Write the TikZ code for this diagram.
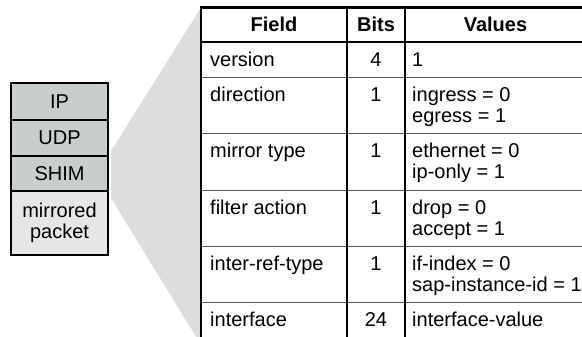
\documentclass[tikz,border=0pt]{standalone}
\usepackage{fontspec}
\setmainfont{Liberation Sans}
\usetikzlibrary{calc}
\definecolor{hdrgray}{HTML}{C8CDCD}
\definecolor{pktgray}{HTML}{E6E6E6}
\definecolor{fangray}{HTML}{DDDDDD}
\begin{document}
\begin{tikzpicture}[x=1pt,y=-1pt,
  font=\fontsize{20}{21}\selectfont,
  stackbox/.style={draw=black, line width=2pt, minimum width=97pt, inner sep=0pt, align=center},
  fanshape/.style={fill=fangray},
  rowline/.style={draw=black!65, line width=0.9pt},
  colline/.style={draw=black, line width=2pt},
  thickline/.style={draw=black, line width=2.6pt},
  cell/.style={inner sep=0pt, anchor=base west},
  num/.style={inner sep=0pt, anchor=base},
  hdr/.style={inner sep=0pt, anchor=base, font=\fontsize{20}{21}\selectfont\bfseries}]
\useasboundingbox (0,0) rectangle (582,337);
% packet stack
\node[stackbox, fill=hdrgray, minimum height=37pt] (ip)   at (59.5,101.5) {IP};
\node[stackbox, fill=hdrgray, minimum height=36pt] (udp)  at (59.5,138)   {UDP};
\node[stackbox, fill=hdrgray, minimum height=35pt] (shim) at (59.5,173.5) {SHIM};
\node[stackbox, fill=pktgray, minimum height=64pt] (mp)   at (59.5,223)   {mirrored\\packet};
% table frame coordinates
\coordinate (tl) at (201,7.5);
\coordinate (bl) at (201,345);
% fan
\fill[fanshape] ([xshift=2pt,yshift=4pt]shim.north east) -- (tl) -- (bl) -- ([xshift=2pt,yshift=-6pt]shim.south east) -- cycle;
\fill[white] (201,7.5) rectangle (600,345);
% row lines
\foreach \y in {77,133,190,246,302} \draw[rowline] (201,\y) -- (600,\y);
% column lines
\draw[colline] (347,7.5) -- (347,345);
\draw[colline] (405,7.5) -- (405,345);
\draw[thickline] (tl) -- (bl);
\draw[thickline] (199.7,7.5) -- (600,7.5);
\draw[draw=black, line width=2.2pt] (201,42) -- (600,42);
% header
\node[hdr] (hfield)  at (274,32)   {Field};
\node[hdr] (hbits)   at (376,32)   {Bits};
\node[hdr] (hvalues) at (495.5,32) {Values};
% rows
\node[cell] (f1) at (210,67)    {version};
\node[num]  (b1) at (376,67)    {4};
\node[cell] (v1) at (412,67)    {1};
\node[cell] (f2) at (210,101.5) {direction};
\node[num]  (b2) at (376,101.5) {1};
\node[cell] (v2a) at (412,101.5) {ingress = 0};
\node[cell] (v2b) at (412,122.5) {egress = 1};
\node[cell] (f3) at (210,157.5) {mirror type};
\node[num]  (b3) at (376,157.5) {1};
\node[cell] (v3a) at (412,157.5) {ethernet = 0};
\node[cell] (v3b) at (412,178.5) {ip-only = 1};
\node[cell] (f4) at (210,214.5) {filter action};
\node[num]  (b4) at (376,214.5) {1};
\node[cell] (v4a) at (412,214.5) {drop = 0};
\node[cell] (v4b) at (412,235.5) {accept = 1};
\node[cell] (f5) at (210,270.5) {inter-ref-type};
\node[num]  (b5) at (376,270.5) {1};
\node[cell] (v5a) at (412,270.5) {if-index = 0};
\node[cell] (v5b) at (412,291.5) {sap-instance-id = 1};
\node[cell] (f6) at (210,326.5) {interface};
\node[num]  (b6) at (376,326.5) {24};
\node[cell] (v6) at (412,326.5) {interface-value};
\end{tikzpicture}
\end{document}
